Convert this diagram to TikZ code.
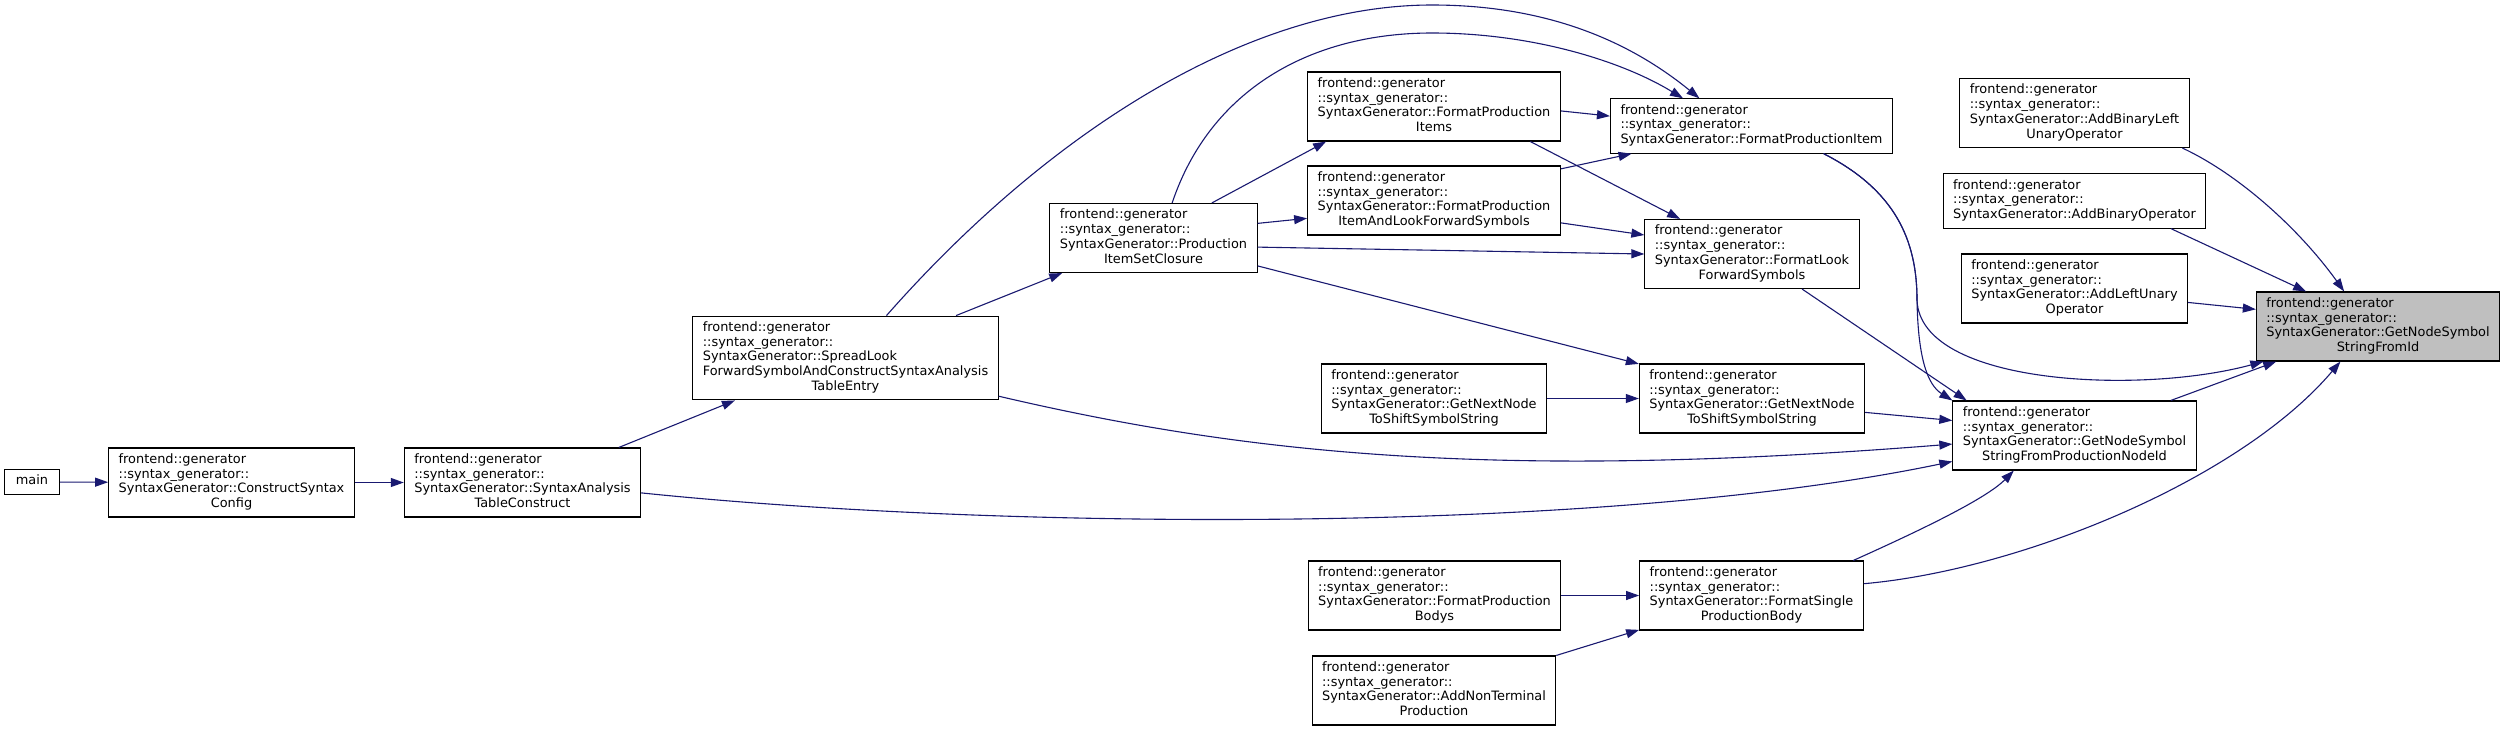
\documentclass[tikz,border=0pt]{standalone}
\usepackage{fontspec}
\setmainfont{DejaVu Sans}
\usepackage{xcolor}
\usepackage{tikz}
\usetikzlibrary{arrows.meta}
\definecolor{edgeblue}{HTML}{191970}
\definecolor{focusgrey}{HTML}{BFBFBF}
\tikzset{fn/.style={draw=black, line width=1.1pt, fill=white, inner xsep=10pt, inner ysep=5pt, font=\fontsize{12.9}{14.75}\selectfont},
call/.style={draw=edgeblue, line width=1.1pt, -{Triangle[length=13pt, width=9pt]}}}
\newcommand{\sgpre}{frontend::generator\\::syntax\_generator::\\SyntaxGenerator::}
\newcommand{\sgname}[2]{\begin{tabular}{@{}l@{}}\sgpre#1\\\multicolumn{1}{@{}c@{}}{#2}\end{tabular}}
\newcommand{\sgthree}[1]{\begin{tabular}{@{}l@{}}\sgpre#1\end{tabular}}

\begin{document}
\begin{tikzpicture}[x=1pt, y=-1pt]
        \useasboundingbox (0,0) rectangle (2507,731);
        \node[fn, minimum width=55pt] (main) at (32,482) {\strut main};
        \node[fn] (csc) at (231.5,482.5) {\sgname{ConstructSyntax}{Config}};
        \node[fn] (satc) at (522.5,482.5) {\sgname{SyntaxAnalysis}{TableConstruct}};
        \node[fn] (slf) at (845.5,358) {\begin{tabular}{@{}l@{}}\sgpre SpreadLook\\ForwardSymbolAndConstructSyntaxAnalysis\\\multicolumn{1}{@{}c@{}}{TableEntry}\end{tabular}};
        \node[fn] (pisc) at (1153.5,238) {\sgname{Production}{ItemSetClosure}};
        \node[fn] (fpi) at (1434,106.5) {\sgname{FormatProduction}{Items}};
        \node[fn] (fpialfs) at (1434,200.5) {\sgname{FormatProduction}{ItemAndLookForwardSymbols}};
        \node[fn] (fpitem) at (1751.5,126) {\sgthree{FormatProductionItem}};
        \node[fn] (flfs) at (1752,254) {\sgname{FormatLook}{ForwardSymbols}};
        \node[fn] (gnnleft) at (1434,398.5) {\sgname{GetNextNode}{ToShiftSymbolString}};
        \node[fn] (gnnright) at (1752,398.5) {\sgname{GetNextNode}{ToShiftSymbolString}};
        \node[fn] (gnssfpn) at (2074.5,435.5) {\sgname{GetNodeSymbol}{StringFromProductionNodeId}};
        \node[fn] (fpb) at (1434.5,595.5) {\sgname{FormatProduction}{Bodys}};
        \node[fn] (fspb) at (1751.5,595.5) {\sgname{FormatSingle}{ProductionBody}};
        \node[fn] (ant) at (1434,690.5) {\sgname{AddNonTerminal}{Production}};
        \node[fn] (ablu) at (2074.5,113) {\sgname{AddBinaryLeft}{UnaryOperator}};
        \node[fn] (abo) at (2074.5,201) {\sgthree{AddBinaryOperator}};
        \node[fn] (alu) at (2074.5,288.5) {\sgname{AddLeftUnary}{Operator}};
        \node[fn, fill=focusgrey] (target) at (2378,326.5) {\sgname{GetNodeSymbol}{StringFromId}};

        \draw[call] (main) -- (csc);
        \draw[call] (csc) -- (satc);
        \draw[call] (satc.20) -- (slf.201);
        \draw[call] (satc.355) .. controls (1000,530) and (1600,535) .. (gnssfpn.192);
        \draw[call] (slf.21) -- (pisc.201);
        \draw[call] (slf.46) .. controls (1050,130) and (1250,5) .. (1432,5) .. controls (1560,5) and (1640,50) .. (fpitem.152);
        \draw[call] (slf.346) .. controls (1250,455) and (1500,480) .. (gnssfpn.184);
        \draw[call] (pisc.31) -- (fpi.198);
        \draw[call] (pisc.8) -- (fpialfs.188);
        \draw[call] (pisc.62) .. controls (1210,90) and (1310,33) .. (1432,33) .. controls (1530,33) and (1620,60) .. (fpitem.158);
        \draw[call] (pisc.355) -- (flfs.west);
        \draw[call] (pisc.345) -- (gnnright.163);
        \draw[call] (fpi.358) -- (fpitem.176);
        \draw[call] (fpi.340) -- (flfs.154);
        \draw[call] (fpialfs.14) -- (fpitem.193);
        \draw[call] (fpialfs.350) -- (flfs.170);
        \draw[call] (fpitem.339) .. controls (1895,190) and (1917,240) .. (1917,300) .. controls (1918,360) and (1928,385) .. (gnssfpn.164);
        \draw[call] (fpitem.339) .. controls (1895,190) and (1917,240) .. (1917,300) .. controls (1920,385) and (2140,395) .. (target.197);
        \draw[call] (flfs.325) -- (gnssfpn.162);
        \draw[call] (gnnleft) -- (gnnright);
        \draw[call] (gnnright.353) -- (gnssfpn.173);
        \draw[call] (gnssfpn.20) -- (target.199);
        \draw[call] (fspb.19) .. controls (1910,535) and (1985,500) .. (gnssfpn.210);
        \draw[call] (fspb.6) .. controls (2020,570) and (2240,480) .. (target.223);
        \draw[call] (fpb) -- (fspb);
        \draw[call] (ant.16) -- (fspb.197);
        \draw[call] (ablu.342) .. controls (2240,175) and (2300,230) .. (target.134);
        \draw[call] (abo.344) -- (target.154);
        \draw[call] (alu.353) -- (target.172);
\end{tikzpicture}
\end{document}
